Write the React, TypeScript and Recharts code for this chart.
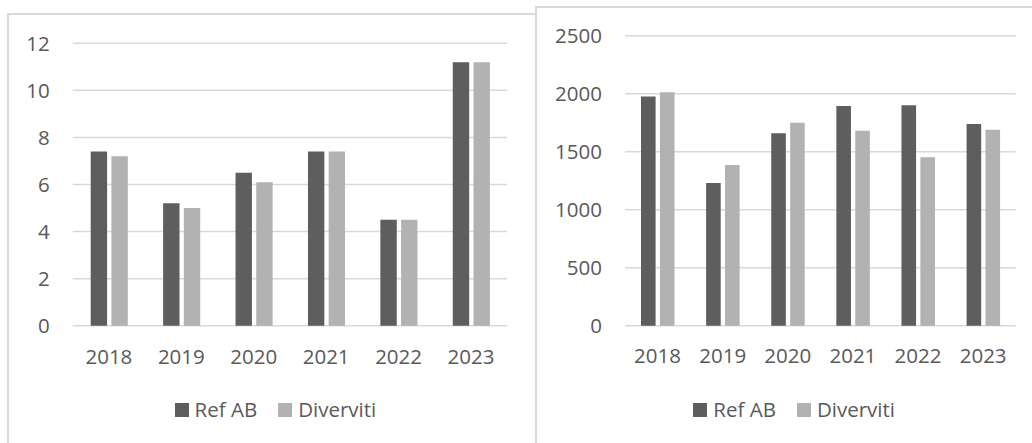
import React from 'react';
import { BarChart, Bar, XAxis, YAxis, CartesianGrid, Legend } from 'recharts';

const years = ['2018', '2019', '2020', '2021', '2022', '2023'];

// left panel
const refAbLeft = [7.4, 5.2, 6.5, 7.4, 4.5, 11.2];
const diverLeft = [7.2, 5.0, 6.1, 7.4, 4.5, 11.2];
const leftTicks = [0, 2, 4, 6, 8, 10, 12];

// right panel
const refAbRight = [1975, 1230, 1658, 1894, 1900, 1739];
const diverRight = [2012, 1385, 1750, 1681, 1452, 1690];
const rightTicks = [0, 500, 1000, 1500, 2000, 2500];

const seriesNames = ['Ref AB', 'Diverviti'];
const DARK = '#5e5e5e';
const LIGHT = '#b2b2b2';
const TEXT = '#595959';
const GRID = '#d9d9d9';
const FONT = '"Open Sans", sans-serif';

const toRows = (a: number[], b: number[]) =>
  years.map((y, i) => ({ year: y, refAb: a[i], diver: b[i] }));

const tickStyle = { fill: TEXT, fontSize: 20.5, fontFamily: FONT };

const LegendRow = () => (
  <div style={{ display: 'flex', alignItems: 'center', height: 20, fontFamily: FONT, fontSize: 20.5, color: TEXT, lineHeight: 1, whiteSpace: 'nowrap' }}>
    <span style={{ width: 14, height: 14, background: DARK, display: 'inline-block' }} />
    <span style={{ marginLeft: 6 }}>{seriesNames[0]}</span>
    <span style={{ width: 14, height: 14, background: LIGHT, display: 'inline-block', marginLeft: 21 }} />
    <span style={{ marginLeft: 6 }}>{seriesNames[1]}</span>
  </div>
);

interface PanelProps {
  rows: { year: string; refAb: number; diver: number }[];
  width: number;
  margin: { top: number; right: number; bottom: number; left: number };
  domain: [number, number];
  ticks: number[];
  barSize: number;
  xMargin: number;
  legendLeft: number;
}

const Panel: React.FC<PanelProps> = ({ rows, width, margin, domain, ticks, barSize, xMargin, legendLeft }) => (
  <BarChart width={width} height={443} data={rows} margin={margin} barSize={barSize} barGap={4.3}>
    <CartesianGrid vertical={false} stroke={GRID} strokeWidth={1.5} />
    <XAxis dataKey="year" axisLine={false} tickLine={false} tickSize={0} tickMargin={xMargin} height={30} tick={tickStyle} interval={0} />
    <YAxis domain={domain} ticks={ticks} axisLine={false} tickLine={false} tickSize={0} tickMargin={23} width={60} tick={tickStyle} />
    <Legend
      verticalAlign="middle"
      align="center"
      layout="horizontal"
      wrapperStyle={{ left: legendLeft, top: 399.5, width: 'auto' }}
      content={() => <LegendRow />}
    />
    <Bar dataKey="refAb" name={seriesNames[0]} fill={DARK} isAnimationActive={false} />
    <Bar dataKey="diver" name={seriesNames[1]} fill={LIGHT} isAnimationActive={false} />
  </BarChart>
);

export default function App() {
  return (
    <div style={{ position: 'absolute', left: 0, top: 0, width: 1032, height: 443, overflow: 'hidden', background: '#fff' }}>
      <div style={{ position: 'absolute', left: 7, top: 13, width: 560, height: 500, border: `2px solid ${GRID}`, boxSizing: 'border-box' }} />
      <div style={{ position: 'absolute', left: 0, top: 0 }}>
        <Panel
          rows={toRows(refAbLeft, diverLeft)}
          width={537}
          margin={{ top: 43.3, right: 29.8, bottom: 87.3, left: 12.7 }}
          domain={[0, 12]}
          ticks={leftTicks}
          barSize={16.4}
          xMargin={23.3}
          legendLeft={174.6}
        />
      </div>
      <div style={{ position: 'absolute', left: 535, top: 6, width: 600, height: 500, border: `2px solid ${GRID}`, boxSizing: 'border-box', background: '#fff' }} />
      <div style={{ position: 'absolute', left: 537, top: 0 }}>
        <Panel
          rows={toRows(refAbRight, diverRight)}
          width={495}
          margin={{ top: 35.7, right: 16.3, bottom: 87.3, left: 28 }}
          domain={[0, 2500]}
          ticks={rightTicks}
          barSize={14.6}
          xMargin={22.3}
          legendLeft={156.3}
        />
      </div>
    </div>
  );
}
